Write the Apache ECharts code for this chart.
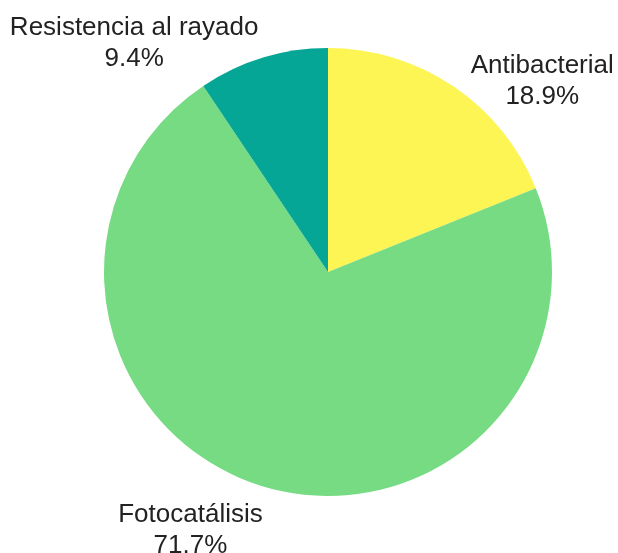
<!DOCTYPE html>
<html>
<head>
<meta charset="utf-8">
<script src="https://cdn.jsdelivr.net/npm/echarts@6/dist/echarts.min.js"></script>
<style>
html,body{margin:0;padding:0;background:#fff;}
#chart{width:618px;height:553px;}
</style>
</head>
<body>
<div id="chart"></div>
<script>
const categories = ['Antibacterial', 'Fotocatálisis', 'Resistencia al rayado'];
const values = [18.9, 71.7, 9.4];
const colors = ['#fdf553', '#77db83', '#05a696'];
const labelShiftX = [-6, 20, 15];
const labelShiftY = [7, 30, 0];

const chart = echarts.init(document.getElementById('chart'));
chart.setOption({
  backgroundColor: '#ffffff',
  animation: false,
  series: [{
    type: 'pie',
    center: [328, 272],
    radius: [0, 224],
    startAngle: 90,
    clockwise: true,
    avoidLabelOverlap: false,
    data: categories.map((c, i) => ({ name: c, value: values[i], itemStyle: { color: colors[i] } })),
    label: {
      show: true,
      position: 'outside',
      formatter: p => p.name + '\n' + p.value.toFixed(1) + '%',
      fontFamily: '"Liberation Sans", Arial, sans-serif',
      fontSize: 26,
      lineHeight: 31,
      color: '#222222'
    },
    labelLine: { show: false, length: 15, length2: 10 },
    labelLayout: function (params) {
      const r = params.labelRect;
      const i = params.dataIndex;
      return {
        x: r.x + r.width / 2 + labelShiftX[i],
        y: r.y + r.height / 2 + labelShiftY[i],
        align: 'center',
        verticalAlign: 'middle'
      };
    },
    emphasis: { disabled: true }
  }]
});
</script>
</body>
</html>
